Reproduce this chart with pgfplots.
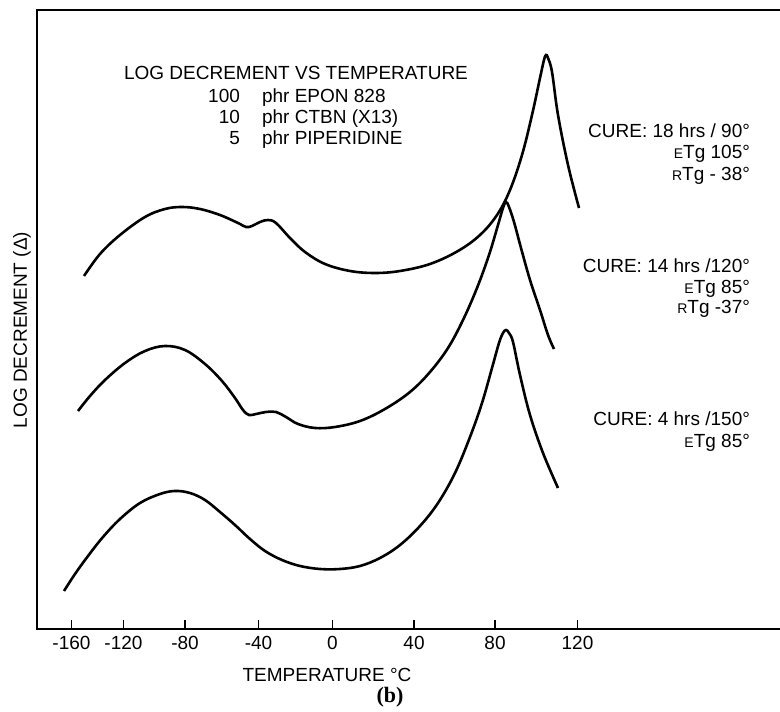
\documentclass[border=0pt]{standalone}
\usepackage{fontspec}
\setmainfont{Liberation Sans}
\newfontfamily\seriffont{Liberation Serif}
\usepackage{pgfplots}
\pgfplotsset{compat=1.18}
\newcommand{\sm}[1]{{\fontsize{7}{8}\selectfont #1}}
\begin{document}
\begin{tikzpicture}[font=\fontsize{9.5}{11}\selectfont]
\begin{axis}[
  x=0.5pt, y=0.5pt,
  xmin=37, xmax=790, ymin=82, ymax=701,
  axis line style={line width=0.9pt},
  clip=false,
  xtick={71.5,123.5,185,258.5,332.5,414,495,577.5},
  xticklabels={-160,-120,-80,-40,0,40,80,120},
  ytick=\empty,
  xtick pos=left,
  tick align=inside,
  major tick length=4.5pt,
  tick style={line width=0.9pt, black},
  tick label style={font=\fontsize{9.5}{11}\selectfont},
]
% 18 hrs / 90 C
\addplot[black, line width=1.3pt, smooth, tension=0.6, mark=none] coordinates {
(84,435) (100,457) (120,476) (145,494) (165,502) (182,504) (200,502) (220,496)
(238,488) (246,484) (252,485) (260,489) (268,491) (276,488) (290,473) (305,459)
(325,447) (350,440) (375,438) (400,440) (430,447) (458,460) (480,476) (497,496)
(510,521) (522,556) (532,596) (540,633) (544,651) (546,656) (548,653) (552,639)
(558,596) (568,546) (579,503)
};
% 14 hrs / 120 C
\addplot[black, line width=1.3pt, smooth, tension=0.6, mark=none] coordinates {
(78,300) (90,315) (105,331) (125,348) (145,360) (165,365) (185,361) (205,347)
(222,330) (235,313) (243,301) (249,296) (256,297) (266,299) (276,299) (286,294)
(298,287) (315,283) (335,284) (360,290) (385,302) (410,319) (430,339) (448,363)
(463,391) (477,423) (489,456) (498,486) (503,503) (506,509) (509,504) (514,489)
(521,463) (530,431) (540,401) (548,376) (554,362)
};
% 4 hrs / 150 C
\addplot[black, line width=1.3pt, smooth, tension=0.6, mark=none] coordinates {
(64,120) (75,137) (88,155) (103,174) (120,192) (140,208) (160,217) (175,220)
(190,218) (205,211) (220,199) (235,186) (250,172) (265,160) (282,151) (300,145)
(320,142) (340,142) (360,145) (380,153) (400,166) (420,185) (438,208) (455,238)
(470,274) (482,308) (492,343) (499,368) (503,378) (506,381) (509,378) (513,369)
(520,336) (530,296) (543,258) (558,223)
};
\coordinate (bl) at (axis cs:0,0);
\coordinate (tr) at (axis cs:780,711);
% title block
\node at (axis cs:296,638) {LOG DECREMENT VS TEMPERATURE};
\node[anchor=base east] at (axis cs:247,608) {100};
\node[anchor=base west] at (axis cs:255,608) {phr EPON 828};
\node[anchor=base east] at (axis cs:247,587) {10};
\node[anchor=base west] at (axis cs:255,587) {phr CTBN (X13)};
\node[anchor=base east] at (axis cs:247,566) {5};
\node[anchor=base west] at (axis cs:255,566) {phr PIPERIDINE};
% annotations
\node[anchor=base east] at (axis cs:757,573) {CURE: 18 hrs / 90°};
\node[anchor=base east] at (axis cs:757,552) {\sm{E}Tg 105°};
\node[anchor=base east] at (axis cs:757,530) {\sm{R}Tg - 38°};
\node[anchor=base east] at (axis cs:757,438) {CURE: 14 hrs /120°};
\node[anchor=base east] at (axis cs:757,417) {\sm{E}Tg 85°};
\node[anchor=base east] at (axis cs:757,397) {\sm{R}Tg -37°};
\node[anchor=base east] at (axis cs:757,285) {CURE: 4 hrs /150°};
\node[anchor=base east] at (axis cs:757,263) {\sm{E}Tg 85°};
% axis labels
\node[rotate=90] at (axis cs:22,381) {LOG DECREMENT (Δ)};
\node at (axis cs:327,36) {TEMPERATURE °C};
\node at (axis cs:390,14) {\seriffont\bfseries\fontsize{11}{12}\selectfont (b)};
\end{axis}
\pgfresetboundingbox
\path (bl) rectangle (tr);
\end{tikzpicture}
\end{document}
